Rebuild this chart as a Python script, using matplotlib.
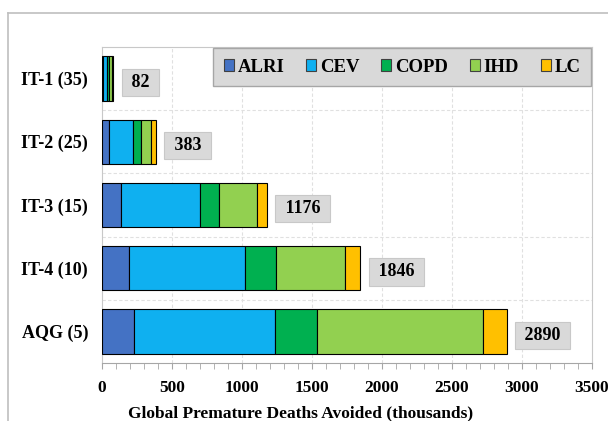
'''
Global premature deaths avoided by scenario, stacked by cause
'''

import numpy as np
import matplotlib
matplotlib.use('Agg')
import matplotlib.pyplot as plt
from matplotlib.patches import Patch
from matplotlib.ticker import MultipleLocator
from matplotlib.lines import Line2D

# ═══ Data ═════════════════════════════════════════════════════════════════

scenarios = ['IT-1 (35)', 'IT-2 (25)', 'IT-3 (15)', 'IT-4 (10)', 'AQG (5)']
causes = ['ALRI', 'CEV', 'COPD', 'IHD', 'LC']

alri = [7, 50, 133, 194, 230]
cev = [27, 172, 569, 829, 1007]
copd = [17, 58, 136, 217, 297]
ihd = [19, 72, 269, 493, 1187]
lc = [12, 31, 69, 113, 169]

totals = [82, 383, 1176, 1846, 2890]

colors = ['#4472C4', '#0FB0F0', '#00B050', '#92D050', '#FFC000']

# ═══ Figure ═══════════════════════════════════════════════════════════════

plt.rcParams['font.family'] = ['Liberation Serif', 'DejaVu Serif']
plt.rcParams['font.weight'] = 'bold'

fig = plt.figure(figsize=(6.08, 4.21), dpi=100)
ax = fig.add_axes([102/608, 58/421, 490/608, 316/421])

# Outer chart border (runs off the right and bottom)
fig.add_artist(Line2D([8/608, 8/608], [0, 1 - 13/421], color='#BFBFBF', lw=1.2))
fig.add_artist(Line2D([8/608, 1], [1 - 13/421, 1 - 13/421], color='#BFBFBF', lw=1.2))

# ─── Bars ────────────────────────────────────

y = np.arange(len(scenarios))
left = np.zeros(len(scenarios))
for name, vals, col in zip(causes, [alri, cev, copd, ihd, lc], colors):
  ax.barh(y, vals, left=left, height=0.7, color=col, edgecolor='black', linewidth=0.8, zorder=3)
  left += np.array(vals)

# Totals in grey boxes
for yi, tot in zip(y, totals):
  ax.annotate(f' {tot} ', xy=(tot, yi + 0.06), xytext=(10, 0), textcoords='offset points',
              ha='left', va='center', fontsize=13, fontweight='bold',
              bbox=dict(boxstyle='square,pad=0.28', fc='#D9D9D9', ec='#C8C8C8', lw=0.8))

# ─── Settings ────────────────────────────────

ax.set_xlim(0, 3500)
ax.set_ylim(4.5, -0.5)
ax.set_yticks(y)
ax.set_yticklabels(scenarios, fontsize=13, fontweight='bold')
ax.xaxis.set_major_locator(MultipleLocator(500))
ax.xaxis.set_minor_locator(MultipleLocator(100))
ax.tick_params(axis='x', which='both', direction='out', length=4, color='#A6A6A6', labelsize=12.5, pad=8)
ax.tick_params(axis='y', length=0, pad=10)
for lab in ax.get_xticklabels():
  lab.set_fontweight('bold')

fig.text(301/608, 1 - 413/421, 'Global Premature Deaths Avoided (thousands)',
         ha='center', va='center', fontsize=12.5, fontweight='bold')

# Grid
for xv in np.arange(500, 3500, 500):
  ax.axvline(xv, color='#E0E0E0', lw=0.8, ls=(0, (3, 2)), zorder=0)
for yv in np.arange(0.5, 4.5, 1):
  ax.axhline(yv, color='#E0E0E0', lw=0.8, ls=(0, (3, 2)), zorder=0)

for s in ['top', 'right', 'left']:
  ax.spines[s].set_color('#C8C8C8')
ax.spines['bottom'].set_color('#A6A6A6')

# Legend
handles = [Patch(fc=c, ec='#404040', lw=0.8) for c in colors]
leg = ax.legend(handles, causes, ncol=5, loc='upper right', bbox_to_anchor=(0.998, 0.996),
                prop=dict(weight='bold', size=13.5), frameon=True, fancybox=False,
                handlelength=0.55, handleheight=0.55, handletextpad=0.2, columnspacing=1.15,
                borderpad=0.55, borderaxespad=0)
leg.get_frame().set_facecolor('#D9D9D9')
leg.get_frame().set_edgecolor('#A6A6A6')
leg.get_frame().set_alpha(1)
leg.set_zorder(5)

fig.savefig('out.png', dpi=100)
